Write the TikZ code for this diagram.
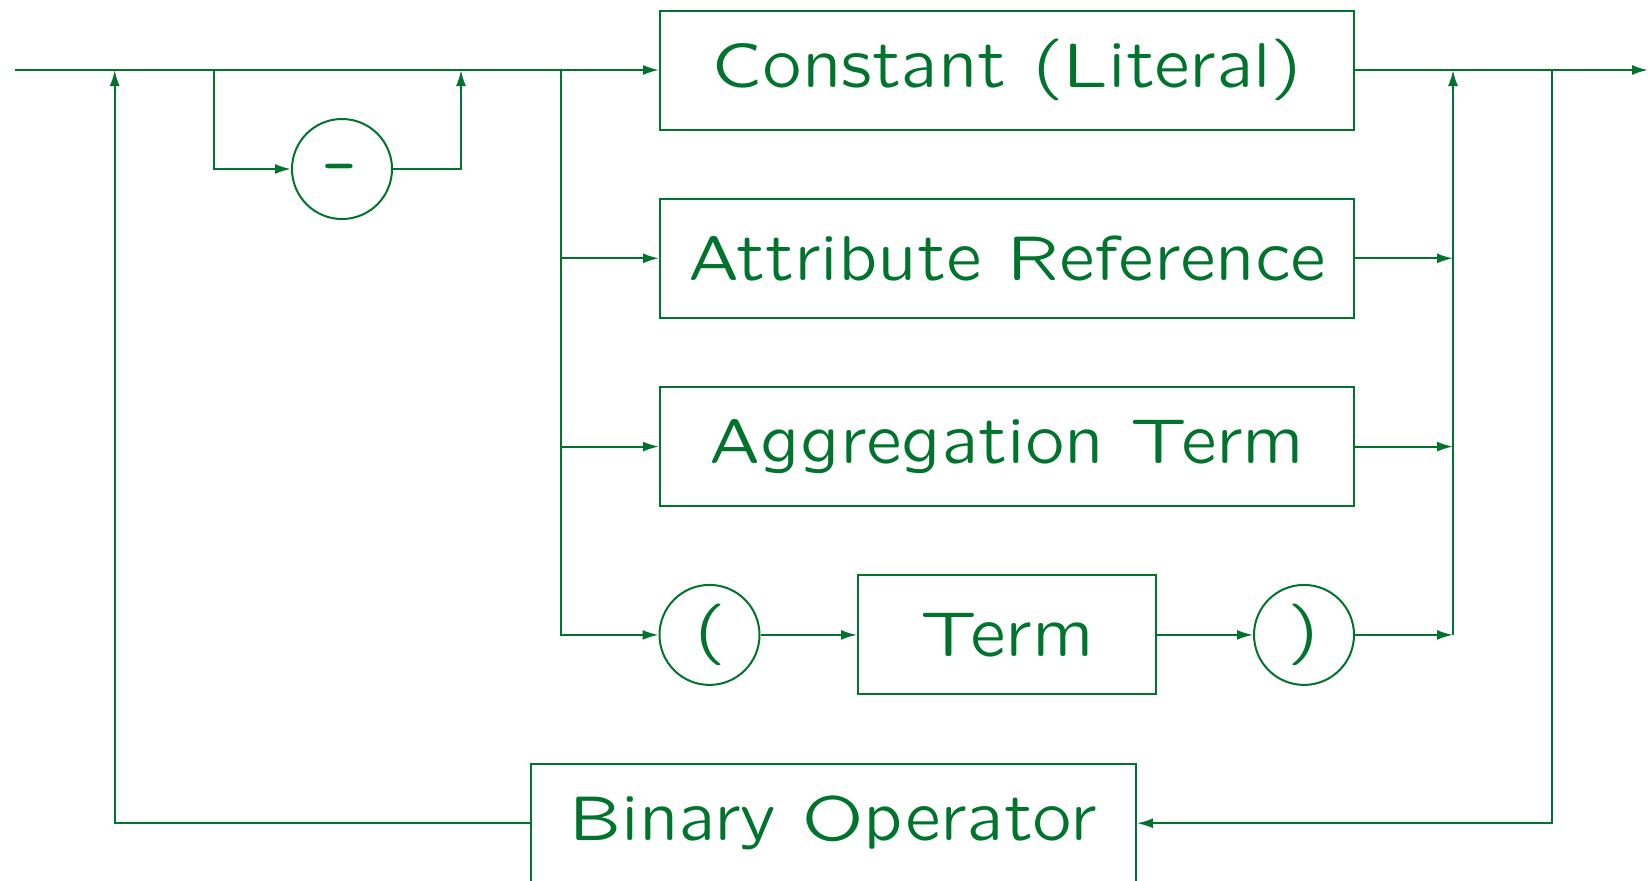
\documentclass[tikz,border=0pt]{standalone}
\usepackage{fontspec}
\usepackage{graphicx}
\newfontfamily\slidefont{lmsansquot8-regular.otf}
\usetikzlibrary{arrows.meta}
\definecolor{rail}{RGB}{0,115,45}
\tikzset{
  conn/.style={draw=rail, line width=1pt},
  arr/.style={conn, -{Latex[length=8pt,width=5pt]}},
  nonterm/.style={draw=rail, line width=1pt, rectangle, inner sep=0pt,
    minimum height=59.5pt, text=rail, font=\slidefont\fontsize{31.7}{38}\selectfont},
  term/.style={draw=rail, line width=1pt, circle, inner sep=0pt,
    minimum size=50pt, text=rail, font=\slidefont\fontsize{31.7}{38}\selectfont},
}
\begin{document}
\begin{tikzpicture}[x=0.5pt,y=-0.5pt]
\clip (0,0) rectangle (1648,880);

% alternatives
\node[nonterm, minimum width=347pt] (const) at (1007,70) {Constant (Literal)};
\node[nonterm, minimum width=347pt] (attr) at (1007,258.3) {Attribute Reference};
\node[nonterm, minimum width=347pt] (agg) at (1007,446.6) {Aggregation Term};
\node[term] (open) at (709.5,634.9) {(};
\node[nonterm, minimum width=149pt] (sub) at (1007,634.9) {Term};
\node[term] (close) at (1304,634.9) {)};
% optional sign
\node[term, text height=16.5pt, text depth=0pt] (minus) at (342,169) {\scalebox{1.3}[1.15]{-}};
% repetition
\node[nonterm, minimum width=302.75pt] (binop) at (833.25,823.2) {Binary Operator};

% points on the main rail
\coordinate (start) at (15,70);
\coordinate (j1) at (114.7,70);
\coordinate (s1) at (213.8,70);
\coordinate (j2) at (461,70);
\coordinate (s2) at (560.7,70);
\coordinate (j3) at (1453,70);
\coordinate (s3) at (1552,70);
\coordinate (end) at (1648,70);

% main rail
\draw[arr] (start) -- (const.west);
\draw[arr] (const.east) -- (end);

% sign bypass
\draw[arr] (s1) |- (minus.west);
\draw[arr] (minus.east) -| (j2);

% branching into the alternatives
\draw[arr] (s2) |- (open.west);
\draw[arr] (s2 |- attr.west) -- (attr.west);
\draw[arr] (s2 |- agg.west) -- (agg.west);
\draw[arr] (open.east) -- (sub.west);
\draw[arr] (sub.east) -- (close.west);

% collecting the alternatives
\draw[arr] (attr.east) -- (j3 |- attr.east);
\draw[arr] (agg.east) -- (j3 |- agg.east);
\draw[arr] (close.east) -- (j3 |- close.east);
\draw[arr] (j3 |- close.east) -- (j3);

% loop through the binary operator
\draw[arr] (s3) |- (binop.east);
\draw[arr] (binop.west) -| (j1);
\end{tikzpicture}
\end{document}
